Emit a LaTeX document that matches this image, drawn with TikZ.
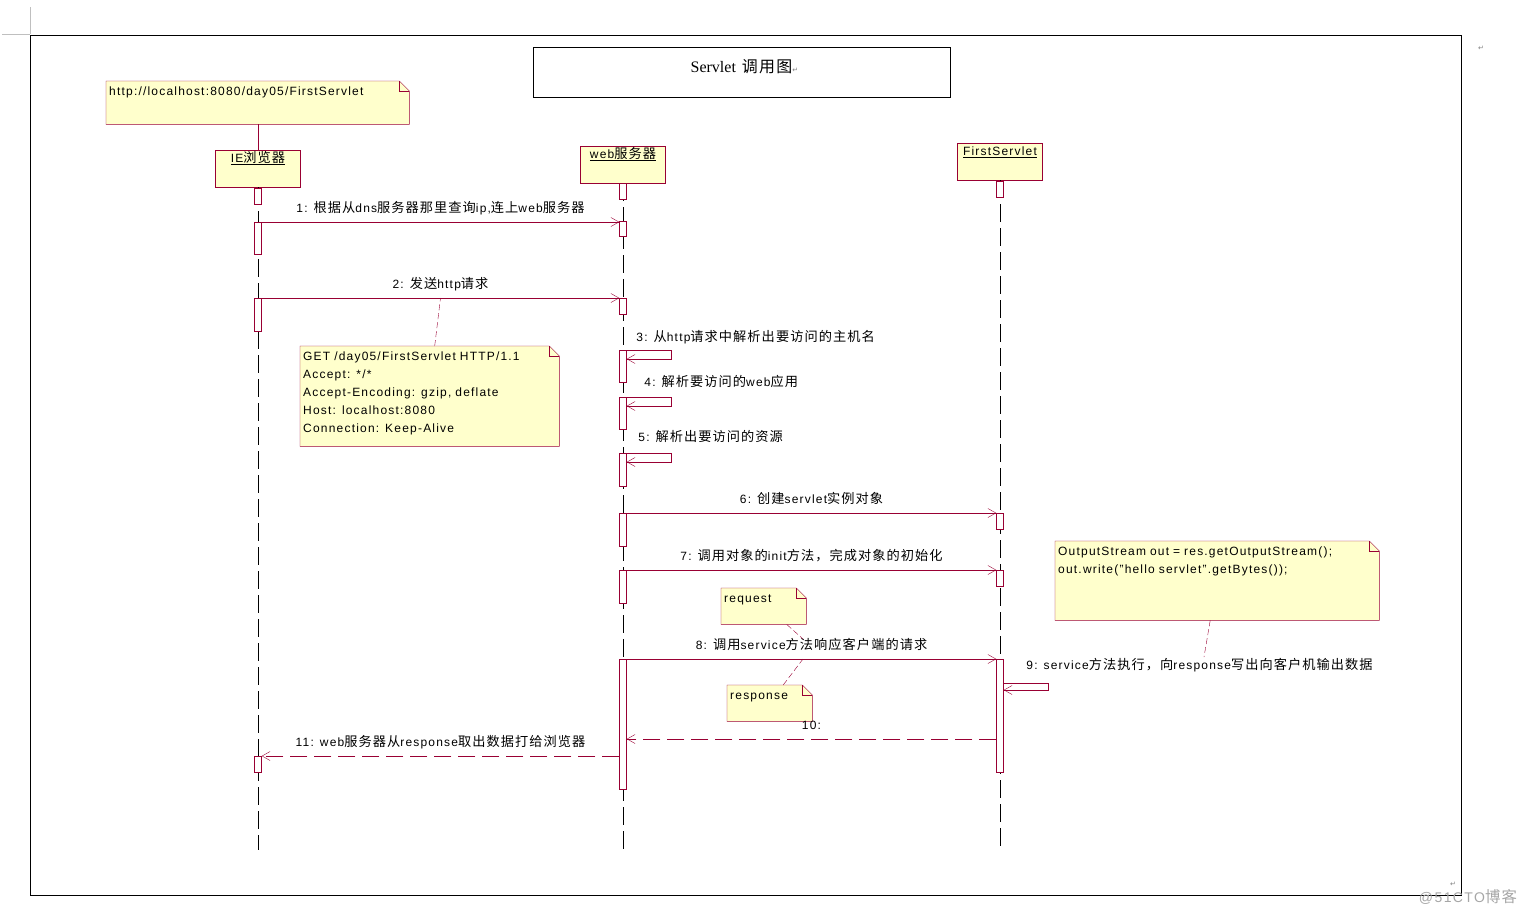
\documentclass[tikz,border=0pt]{standalone}
\usepackage{fontspec}
\setmainfont{Liberation Sans}[LetterSpace=10]
\newfontfamily\cjk{Noto Sans CJK SC}[Scale=1.1,LetterSpace=8]
\newfontfamily\serif{Liberation Serif}
\newfontfamily\dejavu{DejaVu Sans}
\usetikzlibrary{arrows.meta,positioning,backgrounds}
\definecolor{umlred}{RGB}{153,0,51}
\definecolor{umlyellow}{RGB}{255,255,204}
\newcommand\zh[1]{{\cjk #1}}
\newcommand\foldnote[1]{%
  \begin{pgfonlayer}{background}
    \filldraw[umlred,fill=umlyellow] (#1.north west) -- ([xshift=-10pt]#1.north east)
      -- ([yshift=-10pt]#1.north east) -- (#1.south east) -- (#1.south west) -- cycle;
    \draw[umlred] ([xshift=-10pt]#1.north east) |- ([yshift=-10pt]#1.north east);
  \end{pgfonlayer}}

\begin{document}
\begin{tikzpicture}[x=1pt,y=-1pt,>={Straight Barb[length=8pt,width=9pt]},
  every node/.style={font=\fontsize{12}{14}\selectfont},
  obj/.style={draw=umlred,fill=umlyellow,anchor=north,minimum width=85pt,
    inner xsep=2pt,inner ysep=3pt,text height=9pt,text depth=22pt},
  act/.style={draw=umlred,fill=white,anchor=north,minimum width=7pt,inner sep=0pt},
  life/.style={dash pattern=on 18pt off 6pt},
  msg/.style={draw=umlred,->},
  ret/.style={msg,dash pattern=on 17pt off 7pt},
  lbl/.style={inner sep=0pt,text height=9pt,text depth=3pt,above=6pt},
  slbl/.style={inner sep=0pt,text height=9pt,text depth=3pt,anchor=south west},
  note/.style={anchor=north west,align=left,inner xsep=3pt,inner ysep=5pt,text height=9pt},
  noteln/.style={umlred,dash pattern=on 6pt off 3pt}]
\useasboundingbox (0,0) rectangle (1526,916);

% page
\draw[gray!50] (2,34) -- (30,34) (30,7) -- (30,34);
\draw[line width=1pt] (30,35) rectangle (1461,895);
\node[gray,font=\dejavu\fontsize{7}{7}\selectfont] (mark1) at (1481,48) {↵};
\node[gray,font=\dejavu\fontsize{7}{7}\selectfont] (mark2) at (1453,884) {↵};
\node[gray!70,font=\fontsize{14}{14}\selectfont] (wm) at (1468,897) {@51CTO\zh{博客}};

\node[draw,anchor=north,minimum width=417pt,inner ysep=0pt,text height=25pt,text depth=25pt,
  font=\fontsize{16}{16}\selectfont] (title) at (741.5,47)
  {{\serif Servlet} {\cjk\fontsize{14.5}{14.5}\selectfont 调用图}\rlap{\textcolor{gray}{\dejavu\fontsize{7}{7}\selectfont ↵}}};

% objects
\node[obj] (ie) at (258,150) {\underline{IE\zh{浏览器}}};
\node[obj] (web) at (623,146) {\underline{web\zh{服务器}}};
\node[obj] (fs) at (1000,143) {\underline{FirstServlet}};

% notes
\node[note,text width=297pt,text depth=24pt] (urlnote) at (106,81)
  {http://localhost:8080/day05/FirstServlet};
\node[note,text width=253pt,text depth=81pt,font=\fontsize{12}{18}\selectfont] (httpnote) at (300,346)
  {GET /day05/FirstServlet HTTP/1.1\\Accept: */*\\Accept-Encoding: gzip, deflate\\Host: localhost:8080\\Connection: Keep-Alive};
\node[note,text width=318pt,text depth=60pt,font=\fontsize{12}{18}\selectfont] (outnote) at (1055,541)
  {OutputStream out = res.getOutputStream();\\out.write("hello servlet".getBytes());};
\node[note,text width=79pt,text depth=17pt] (reqnote) at (721,588) {request};
\node[note,text width=79pt,text depth=17pt] (respnote) at (727,685) {response};
\foldnote{urlnote}
\foldnote{httpnote}
\foldnote{outnote}
\foldnote{reqnote}
\foldnote{respnote}

% lifelines
\coordinate (ieend) at (258,850);
\coordinate (webend) at (623,850);
\coordinate (fsend) at (1000,847);
\draw[life] (ie.south) -- (ieend);
\draw[life] (web.south) -- (webend);
\draw[life] (fs.south) -- (fsend);
\draw[umlred] (urlnote.south -| ie.north) -- (ie.north);

% activations
\foreach \n/\x/\y/\h in {i0/258/188/16, i1/258/222/32, i2/258/298/33, i3/258/756/16,
    w0/623/183/16, w1/623/221/15, w2/623/298/16, w3/623/350/32, w4/623/397/32,
    w5/623/453/33, w6/623/513/33, w7/623/570/33, w8/623/659/130,
    f0/1000/181/16, f1/1000/513/16, f2/1000/570/16, f3/1000/659/113}
  \node[act,minimum height=\h] (\n) at (\x,\y) {};

% messages
\draw[msg] (i1.north east) -- node[lbl] (l1) {1: \zh{根据从}dns\zh{服务器那里查询}ip,\zh{连上}web\zh{服务器}} (i1.north east -| w1.west);
\draw[msg] (i2.north east) -- coordinate (c2) node[lbl] (l2) {2: \zh{发送}http\zh{请求}} (i2.north east -| w2.west);
\draw[msg] (w3.north east) -- ++(44,0) |- ([yshift=-9pt]w3.north east);
\node[slbl] (l3) at ([xshift=9.5pt,yshift=5.5pt]w3.north east) {3: \zh{从}http\zh{请求中解析出要访问的主机名}};
\draw[msg] (w4.north east) -- ++(44,0) |- ([yshift=-9pt]w4.north east);
\node[slbl] (l4) at ([xshift=17.5pt,yshift=7.5pt]w4.north east) {4: \zh{解析要访问的}web\zh{应用}};
\draw[msg] (w5.north east) -- ++(44,0) |- ([yshift=-9pt]w5.north east);
\node[slbl] (l5) at ([xshift=11.5pt,yshift=8.5pt]w5.north east) {5: \zh{解析出要访问的资源}};
\draw[msg] (w6.north east) -- node[lbl] (l6) {6: \zh{创建}servlet\zh{实例对象}} (w6.north east -| f1.west);
\draw[msg] (w7.north east) -- node[lbl] (l7) {7: \zh{调用对象的}init\zh{方法，完成对象的初始化}} (w7.north east -| f2.west);
\draw[msg] (w8.north east) -- coordinate[pos=0.477] (c8) node[lbl] (l8) {8: \zh{调用}service\zh{方法响应客户端的请求}} (w8.north east -| f3.west);
\draw[msg] ([yshift=-24pt]f3.north east) -- ++(44,0) |- ([yshift=-31pt]f3.north east);
\node[slbl] (l9) at ([xshift=22.5pt,yshift=-13.5pt]f3.north east) {9: service\zh{方法执行，向}response\zh{写出向客户机输出数据}};
\draw[ret] ([yshift=-80pt]f3.north west) -- node[lbl] (l10) {10:} ([yshift=-80pt]f3.north west -| w8.east);
\draw[ret] (i3.north east -| w8.west) -- node[lbl] (l11) {11: web\zh{服务器从}response\zh{取出数据打给浏览器}} (i3.north east);

% note links
\coordinate (reqend) at (803,639);
\coordinate (outend) at (1204,657);
\draw[noteln] ([xshift=5pt]httpnote.north) -- (c2);
\draw[noteln] ([xshift=23pt]reqnote.south) -- (reqend);
\draw[noteln] ([xshift=13.5pt]respnote.north) -- (c8);
\draw[noteln] ([xshift=-7pt]outnote.south) -- (outend);
\end{tikzpicture}
\end{document}
